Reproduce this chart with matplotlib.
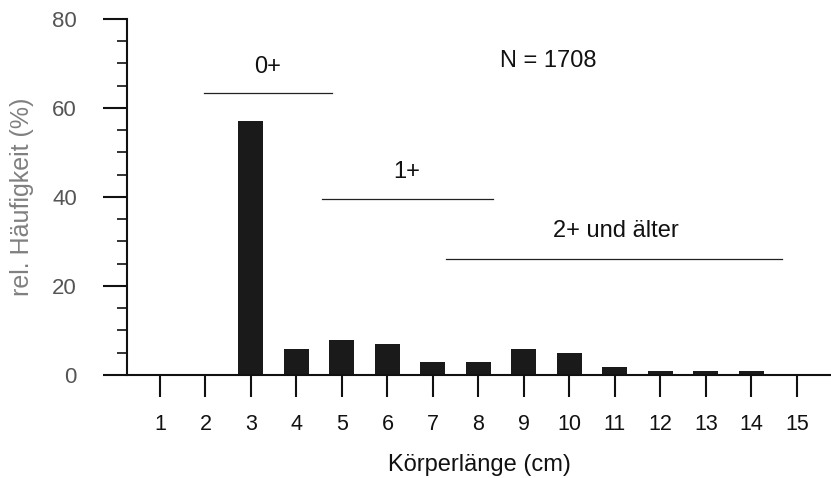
import matplotlib
matplotlib.use('Agg')
from matplotlib import pyplot
import numpy

matplotlib.rcParams['font.family'] = ['Liberation Sans', 'DejaVu Sans']

# Körperlänge (cm) and relative frequency (%)
lengths = numpy.arange(1, 16)
freq = [0, 0, 57.0, 5.8, 7.9, 7.0, 2.9, 2.9, 5.8, 4.9, 1.8, 0.9, 0.9, 0.9, 0]

# age classes: label, line start, line end, line level, label position
groups = ['0+', '1+', '2+ und älter']
g_start = [1.97, 4.56, 7.29]
g_end = [4.78, 8.32, 14.67]
g_level = [63.4, 39.6, 26.1]
g_text_x = [3.37, 6.43, 11.02]
g_text_y = [69.2, 45.6, 32.4]

fig = pyplot.figure(figsize=[8.31, 4.78], dpi=100)
ax = fig.add_axes([0.1528, 0.2155, 0.8472, 0.7448])

ax.bar(lengths, freq, width=0.55, color='#1a1a1a')

for name, x0, x1, lev, tx, ty in zip(groups, g_start, g_end, g_level, g_text_x, g_text_y):
    ax.plot([x0, x1], [lev, lev], color='#222222', lw=0.9)
    ax.text(tx, ty, name, ha='center', va='center', fontsize=17, color='#111111')

ax.text(9.53, 70.6, 'N = 1708', ha='center', va='center', fontsize=17, color='#111111')

ax.set(xlim=[0.275, 15.75], ylim=[0, 80])
ax.spines['top'].set_visible(False)
ax.spines['right'].set_visible(False)
for s in ['left', 'bottom']:
    ax.spines[s].set_linewidth(1.5)
    ax.spines[s].set_color('#111111')

ax.set_xticks(lengths)
ax.set_yticks(numpy.arange(0, 81, 20))
ax.set_yticks(numpy.arange(0, 81, 5), minor=True)
ax.tick_params(axis='x', direction='out', length=16, width=1.5, pad=12,
               labelsize=15.5, color='#111111', labelcolor='#111111')
ax.tick_params(axis='y', which='major', direction='out', length=17, width=1.5,
               pad=19, labelsize=16, color='#111111', labelcolor='#555555')
ax.tick_params(axis='y', which='minor', direction='out', length=7, width=1.2,
               color='#111111')

ax.set_xlabel('Körperlänge (cm)', fontsize=17, color='#111111', labelpad=14)
ax.set_ylabel('rel. Häufigkeit (%)', fontsize=18, color='#808080', labelpad=13)

fig.savefig('out.png', dpi=100)
